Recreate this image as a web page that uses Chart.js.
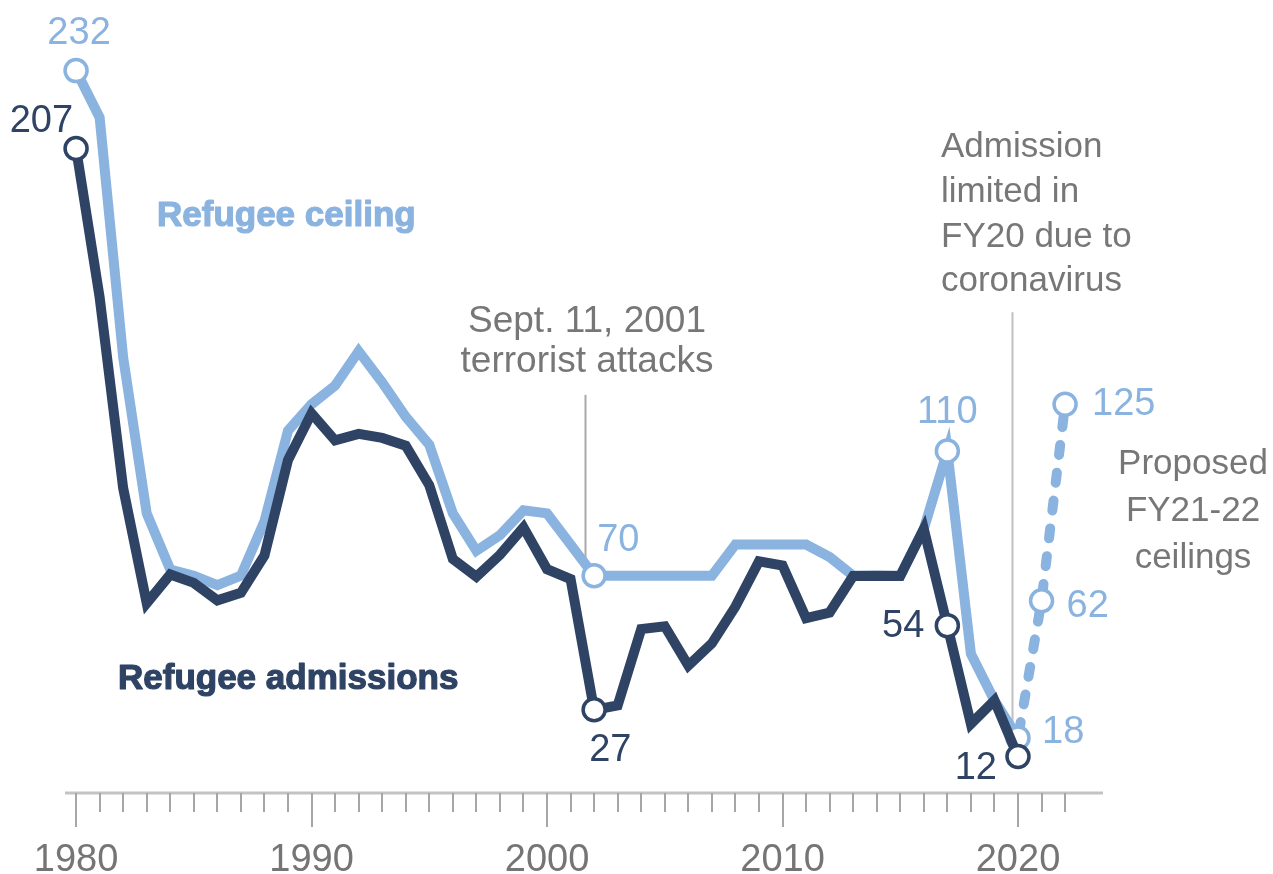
<!DOCTYPE html>
<html>
<head>
<meta charset="utf-8">
<title>Refugee ceiling and admissions, FY1980-2022</title>
<script src="https://cdn.jsdelivr.net/npm/chart.js@4.4.1/dist/chart.umd.min.js"></script>
<style>
  html, body { margin: 0; padding: 0; background: #ffffff; }
  #wrap { width: 1273px; height: 874px; }
</style>
</head>
<body>
<div id="wrap"><canvas id="chart" width="1273" height="874"></canvas></div>
<script>
// Fiscal years and values, in thousands of refugees
const years = [1980, 1981, 1982, 1983, 1984, 1985, 1986, 1987, 1988, 1989,
               1990, 1991, 1992, 1993, 1994, 1995, 1996, 1997, 1998, 1999,
               2000, 2001, 2002, 2003, 2004, 2005, 2006, 2007, 2008, 2009,
               2010, 2011, 2012, 2013, 2014, 2015, 2016, 2017, 2018, 2019,
               2020];
const ceiling = [232, 217, 140, 90, 72, 70, 67, 70, 87.5, 116.5,
                 125, 131, 142, 132, 121, 112, 90, 78, 83, 91,
                 90, 80, 70, 70, 70, 70, 70, 70, 80, 80,
                 80, 80, 76, 70, 70, 70, 85, 110, 45, 30,
                 18];
const admissions = [207, 159.3, 98.1, 61.2, 70.4, 67.7, 62.1, 64.5, 76.5, 107.1,
                    122.1, 113.4, 115.5, 114.2, 111.7, 99, 75.4, 69.7, 76.7, 85.5,
                    72.1, 68.9, 27, 28.4, 52.9, 53.8, 41.2, 48.3, 60.1, 74.6,
                    73.3, 56.4, 58.2, 69.9, 70, 69.9, 85, 54, 22.5, 30,
                    12];
const proposedYears = [2020, 2021, 2022];
const proposedCeiling = [18, 62, 125];
const markedYears = [1980, 2002, 2017, 2020];
const decadeTicks = [1980, 1990, 2000, 2010, 2020];

const LIGHT = '#8ab3e0';
const DARK = '#2f4365';
const GREY_TEXT = '#777777';
const FONT = "'Liberation Sans', Arial, sans-serif";

const toPoints = (xs, ys) => xs.map((x, i) => ({ x: x, y: ys[i] }));
const markRadius = (xs, marks) => xs.map(x => (marks.includes(x) ? 11 : 0));

// Value labels: [series key, year, text align, dx, dy]
const valueLabels = [
  ['ceiling', 1980, 'center', 3, -27],
  ['admissions', 1980, 'right', -3, -17],
  ['ceiling', 2002, 'left', 3, -25],
  ['admissions', 2002, 'left', -5, 51],
  ['ceiling', 2017, 'center', 0, -28],
  ['admissions', 2017, 'right', -23, 11],
  ['admissions', 2020, 'right', -21, 22],
  ['ceiling', 2020, 'left', 24, 5],
  ['proposed', 2021, 'left', 25, 16],
  ['proposed', 2022, 'left', 27, 11]
];
const seriesLookup = {
  ceiling: { xs: years, ys: ceiling, color: LIGHT },
  admissions: { xs: years, ys: admissions, color: DARK },
  proposed: { xs: proposedYears, ys: proposedCeiling, color: LIGHT }
};

const annotations = {
  id: 'annotations',
  beforeDatasetsDraw(chart) {
    const { ctx, scales: { x, y } } = chart;
    const base = y.getPixelForValue(0) - 1;
    ctx.save();
    // baseline
    ctx.strokeStyle = '#c3c3c3';
    ctx.lineWidth = 3;
    ctx.beginPath();
    ctx.moveTo(x.left, base);
    ctx.lineTo(x.right, base);
    ctx.stroke();
    // yearly tick marks, longer on each decade
    ctx.strokeStyle = '#a6a6a6';
    ctx.lineWidth = 2;
    for (let yr = 1980; yr <= 2022; yr++) {
      const px = Math.round(x.getPixelForValue(yr));
      const len = decadeTicks.includes(yr) ? 34 : 19;
      ctx.beginPath();
      ctx.moveTo(px, base);
      ctx.lineTo(px, base + len);
      ctx.stroke();
    }
    // leader lines for the notes
    ctx.strokeStyle = '#a9a9a9';
    ctx.lineWidth = 2;
    const sept = Math.round(x.getPixelForValue(2001.62)) + 0.5;
    ctx.beginPath();
    ctx.moveTo(sept, y.getPixelForValue(128));
    ctx.lineTo(sept, y.getPixelForValue(75));
    ctx.stroke();
    ctx.strokeStyle = '#c0c0c0';
    const fy20 = Math.round(x.getPixelForValue(2019.75)) + 0.5;
    ctx.beginPath();
    ctx.moveTo(fy20, y.getPixelForValue(154.5));
    ctx.lineTo(fy20, y.getPixelForValue(20));
    ctx.stroke();
    ctx.restore();
  },
  afterDatasetsDraw(chart) {
    const { ctx, scales: { x, y } } = chart;
    ctx.save();
    ctx.textBaseline = 'alphabetic';

    ctx.font = `38px ${FONT}`;
    valueLabels.forEach(([key, yr, align, dx, dy]) => {
      const s = seriesLookup[key];
      const v = s.ys[s.xs.indexOf(yr)];
      ctx.fillStyle = s.color;
      ctx.textAlign = align;
      ctx.fillText(String(Math.round(v)), x.getPixelForValue(yr) + dx, y.getPixelForValue(v) + dy);
    });

    // series names, set heavy
    ctx.font = `bold 35px ${FONT}`;
    ctx.textAlign = 'left';
    ctx.lineWidth = 1.2;
    ctx.lineJoin = 'round';
    ctx.fillStyle = LIGHT;
    ctx.strokeStyle = LIGHT;
    ctx.fillText('Refugee ceiling', 157, 226);
    ctx.strokeText('Refugee ceiling', 157, 226);
    ctx.fillStyle = DARK;
    ctx.strokeStyle = DARK;
    ctx.fillText('Refugee admissions', 118, 689);
    ctx.strokeText('Refugee admissions', 118, 689);

    // notes
    ctx.fillStyle = GREY_TEXT;
    ctx.textAlign = 'center';
    ctx.font = `37px ${FONT}`;
    ctx.fillText('Sept. 11, 2001', 587, 332);
    ctx.fillText('terrorist attacks', 587, 372);
    ctx.font = `35px ${FONT}`;
    ctx.fillText('Proposed', 1193, 474);
    ctx.fillText('FY21-22', 1193, 521);
    ctx.fillText('ceilings', 1193, 568);
    ctx.textAlign = 'left';
    ctx.fillText('Admission', 941, 157);
    ctx.fillText('limited in', 941, 202);
    ctx.fillText('FY20 due to', 941, 247);
    ctx.fillText('coronavirus', 941, 291);
    ctx.restore();
  }
};

const lineStyle = (color) => ({
  borderColor: color,
  borderWidth: 10,
  borderJoinStyle: 'miter',
  pointBackgroundColor: '#ffffff',
  pointBorderColor: color,
  pointBorderWidth: 3.5,
  pointHoverRadius: 0,
  tension: 0,
  fill: false,
  clip: false
});

new Chart(document.getElementById('chart'), {
  type: 'line',
  data: {
    datasets: [
      Object.assign({
        label: 'Refugee admissions',
        data: toPoints(years, admissions),
        pointRadius: markRadius(years, markedYears),
        order: 0
      }, lineStyle(DARK)),
      Object.assign({
        label: 'Refugee ceiling',
        data: toPoints(years, ceiling),
        pointRadius: markRadius(years, markedYears),
        order: 1
      }, lineStyle(LIGHT)),
      Object.assign({
        label: 'Proposed FY21-22 ceilings',
        data: toPoints(proposedYears, proposedCeiling),
        pointRadius: markRadius(proposedYears, [2021, 2022]),
        borderDash: [10, 18],
        borderDashOffset: -6,
        borderCapStyle: 'round',
        order: 2
      }, lineStyle(LIGHT))
    ]
  },
  options: {
    responsive: false,
    animation: false,
    devicePixelRatio: 1,
    layout: { padding: { top: 9, left: 65, right: 170, bottom: 0 } },
    plugins: { legend: { display: false }, tooltip: { enabled: false } },
    scales: {
      x: {
        type: 'linear',
        min: 1979.53,
        max: 2023.61,
        grid: { display: false },
        border: { display: false },
        afterBuildTicks: (scale) => { scale.ticks = decadeTicks.map(v => ({ value: v })); },
        afterFit: (scale) => {
          scale.height = 80;
          scale.paddingLeft = 0;
          scale.paddingRight = 0;
        },
        ticks: {
          autoSkip: false,
          maxRotation: 0,
          padding: 36,
          color: '#757575',
          font: { family: FONT, size: 38 },
          callback: (v) => String(v)
        }
      },
      y: {
        display: false,
        min: 0,
        max: 250
      }
    }
  },
  plugins: [annotations]
});
</script>
</body>
</html>
